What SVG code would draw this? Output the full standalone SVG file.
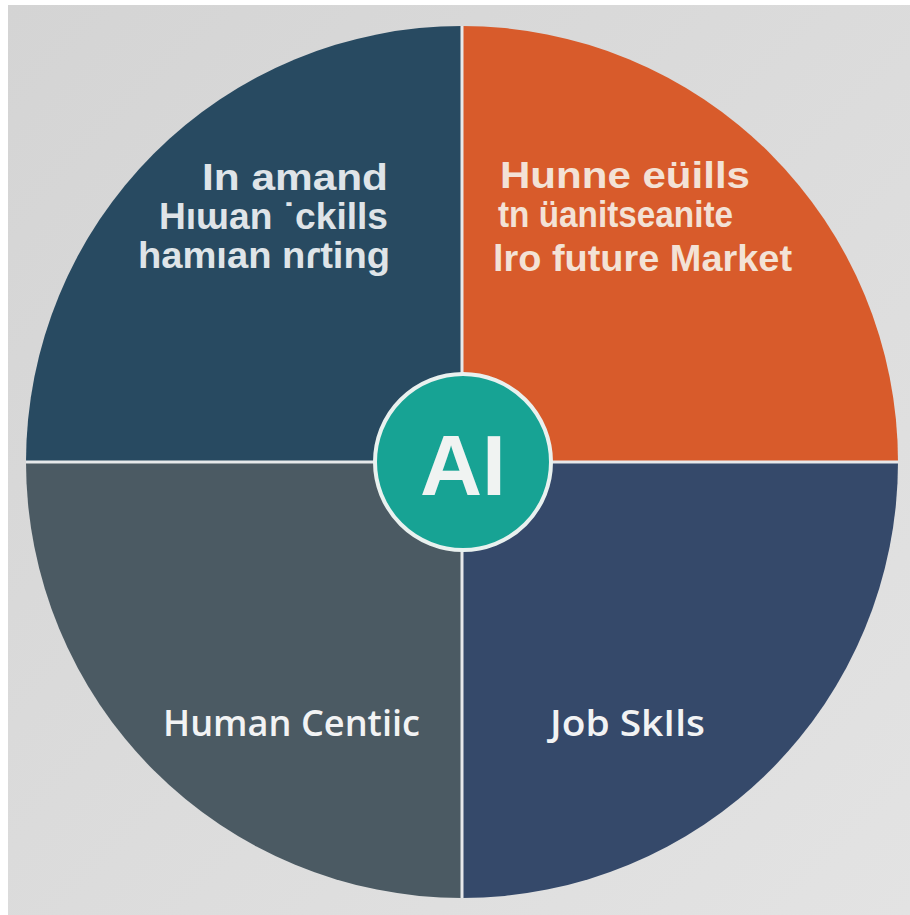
<svg xmlns="http://www.w3.org/2000/svg" width="910" height="915" viewBox="0 0 910 915">
  <defs>
    <linearGradient id="bg" x1="0" y1="0" x2="1" y2="1">
      <stop offset="0" stop-color="#d4d4d4"/>
      <stop offset="1" stop-color="#e3e3e3"/>
    </linearGradient>
    <clipPath id="disc">
      <circle cx="462" cy="462" r="436"/>
    </clipPath>
  </defs>
  <style>
    .lbl { font-family: "Liberation Sans", Arial, sans-serif; font-weight: 700; font-size: 37px; }
    .lblB { font-family: "Open Sans", "Liberation Sans", sans-serif; font-weight: 600; font-size: 36px; fill: #f2f3f4; }
    .tl { fill: #dfe4e8; }
    .tr { fill: #f3e2d6; }
    .div { stroke: #e6e8ea; stroke-width: 3; fill: none; }
  </style>
  <rect x="0" y="0" width="910" height="915" fill="#ffffff"/>
  <rect x="8" y="5" width="902" height="910" fill="url(#bg)"/>

  <g clip-path="url(#disc)">
    <g id="q-top-left">
      <rect x="26" y="26" width="436" height="436" fill="#284a61"/>
      <text class="lbl tl" x="388" y="190" text-anchor="end" textLength="186" lengthAdjust="spacingAndGlyphs">In amand</text>
      <text class="lbl tl" x="388" y="229" text-anchor="end" textLength="229" lengthAdjust="spacingAndGlyphs">Hıɯan ˙ckills</text>
      <text class="lbl tl" x="390" y="268" text-anchor="end" textLength="252" lengthAdjust="spacingAndGlyphs">hamıan nɾting</text>
    </g>
    <g id="q-top-right">
      <rect x="462" y="26" width="436" height="436" fill="#d85b2b"/>
      <text class="lbl tr" x="500" y="188" textLength="250" lengthAdjust="spacingAndGlyphs">Hunne eüills</text>
      <text class="lbl tr" x="498" y="227" textLength="235" lengthAdjust="spacingAndGlyphs">tn üanitseanite</text>
      <text class="lbl tr" x="493" y="271" textLength="299" lengthAdjust="spacingAndGlyphs">lro future Market</text>
    </g>
    <g id="q-bottom-left">
      <rect x="26" y="462" width="436" height="436" fill="#4b5a63"/>
      <text class="lblB" x="163" y="736" textLength="257" lengthAdjust="spacingAndGlyphs">Human Centiic</text>
    </g>
    <g id="q-bottom-right">
      <rect x="462" y="462" width="436" height="436" fill="#35496a"/>
      <text class="lblB" x="550" y="736" textLength="155" lengthAdjust="spacingAndGlyphs">Job SkIls</text>
    </g>
  </g>

  <g id="connectors">
    <line class="div" x1="462" y1="26" x2="462" y2="898"/>
    <line class="div" x1="26" y1="462" x2="898" y2="462"/>
  </g>

  <g id="ai-hub">
    <circle cx="463" cy="462" r="88" fill="#17a394" stroke="#e9f1ef" stroke-width="4"/>
    <text x="463" y="495" text-anchor="middle" font-family="Liberation Sans, Arial, sans-serif" font-weight="700" font-size="86" fill="#f0f3f2">AI</text>
  </g>
</svg>
